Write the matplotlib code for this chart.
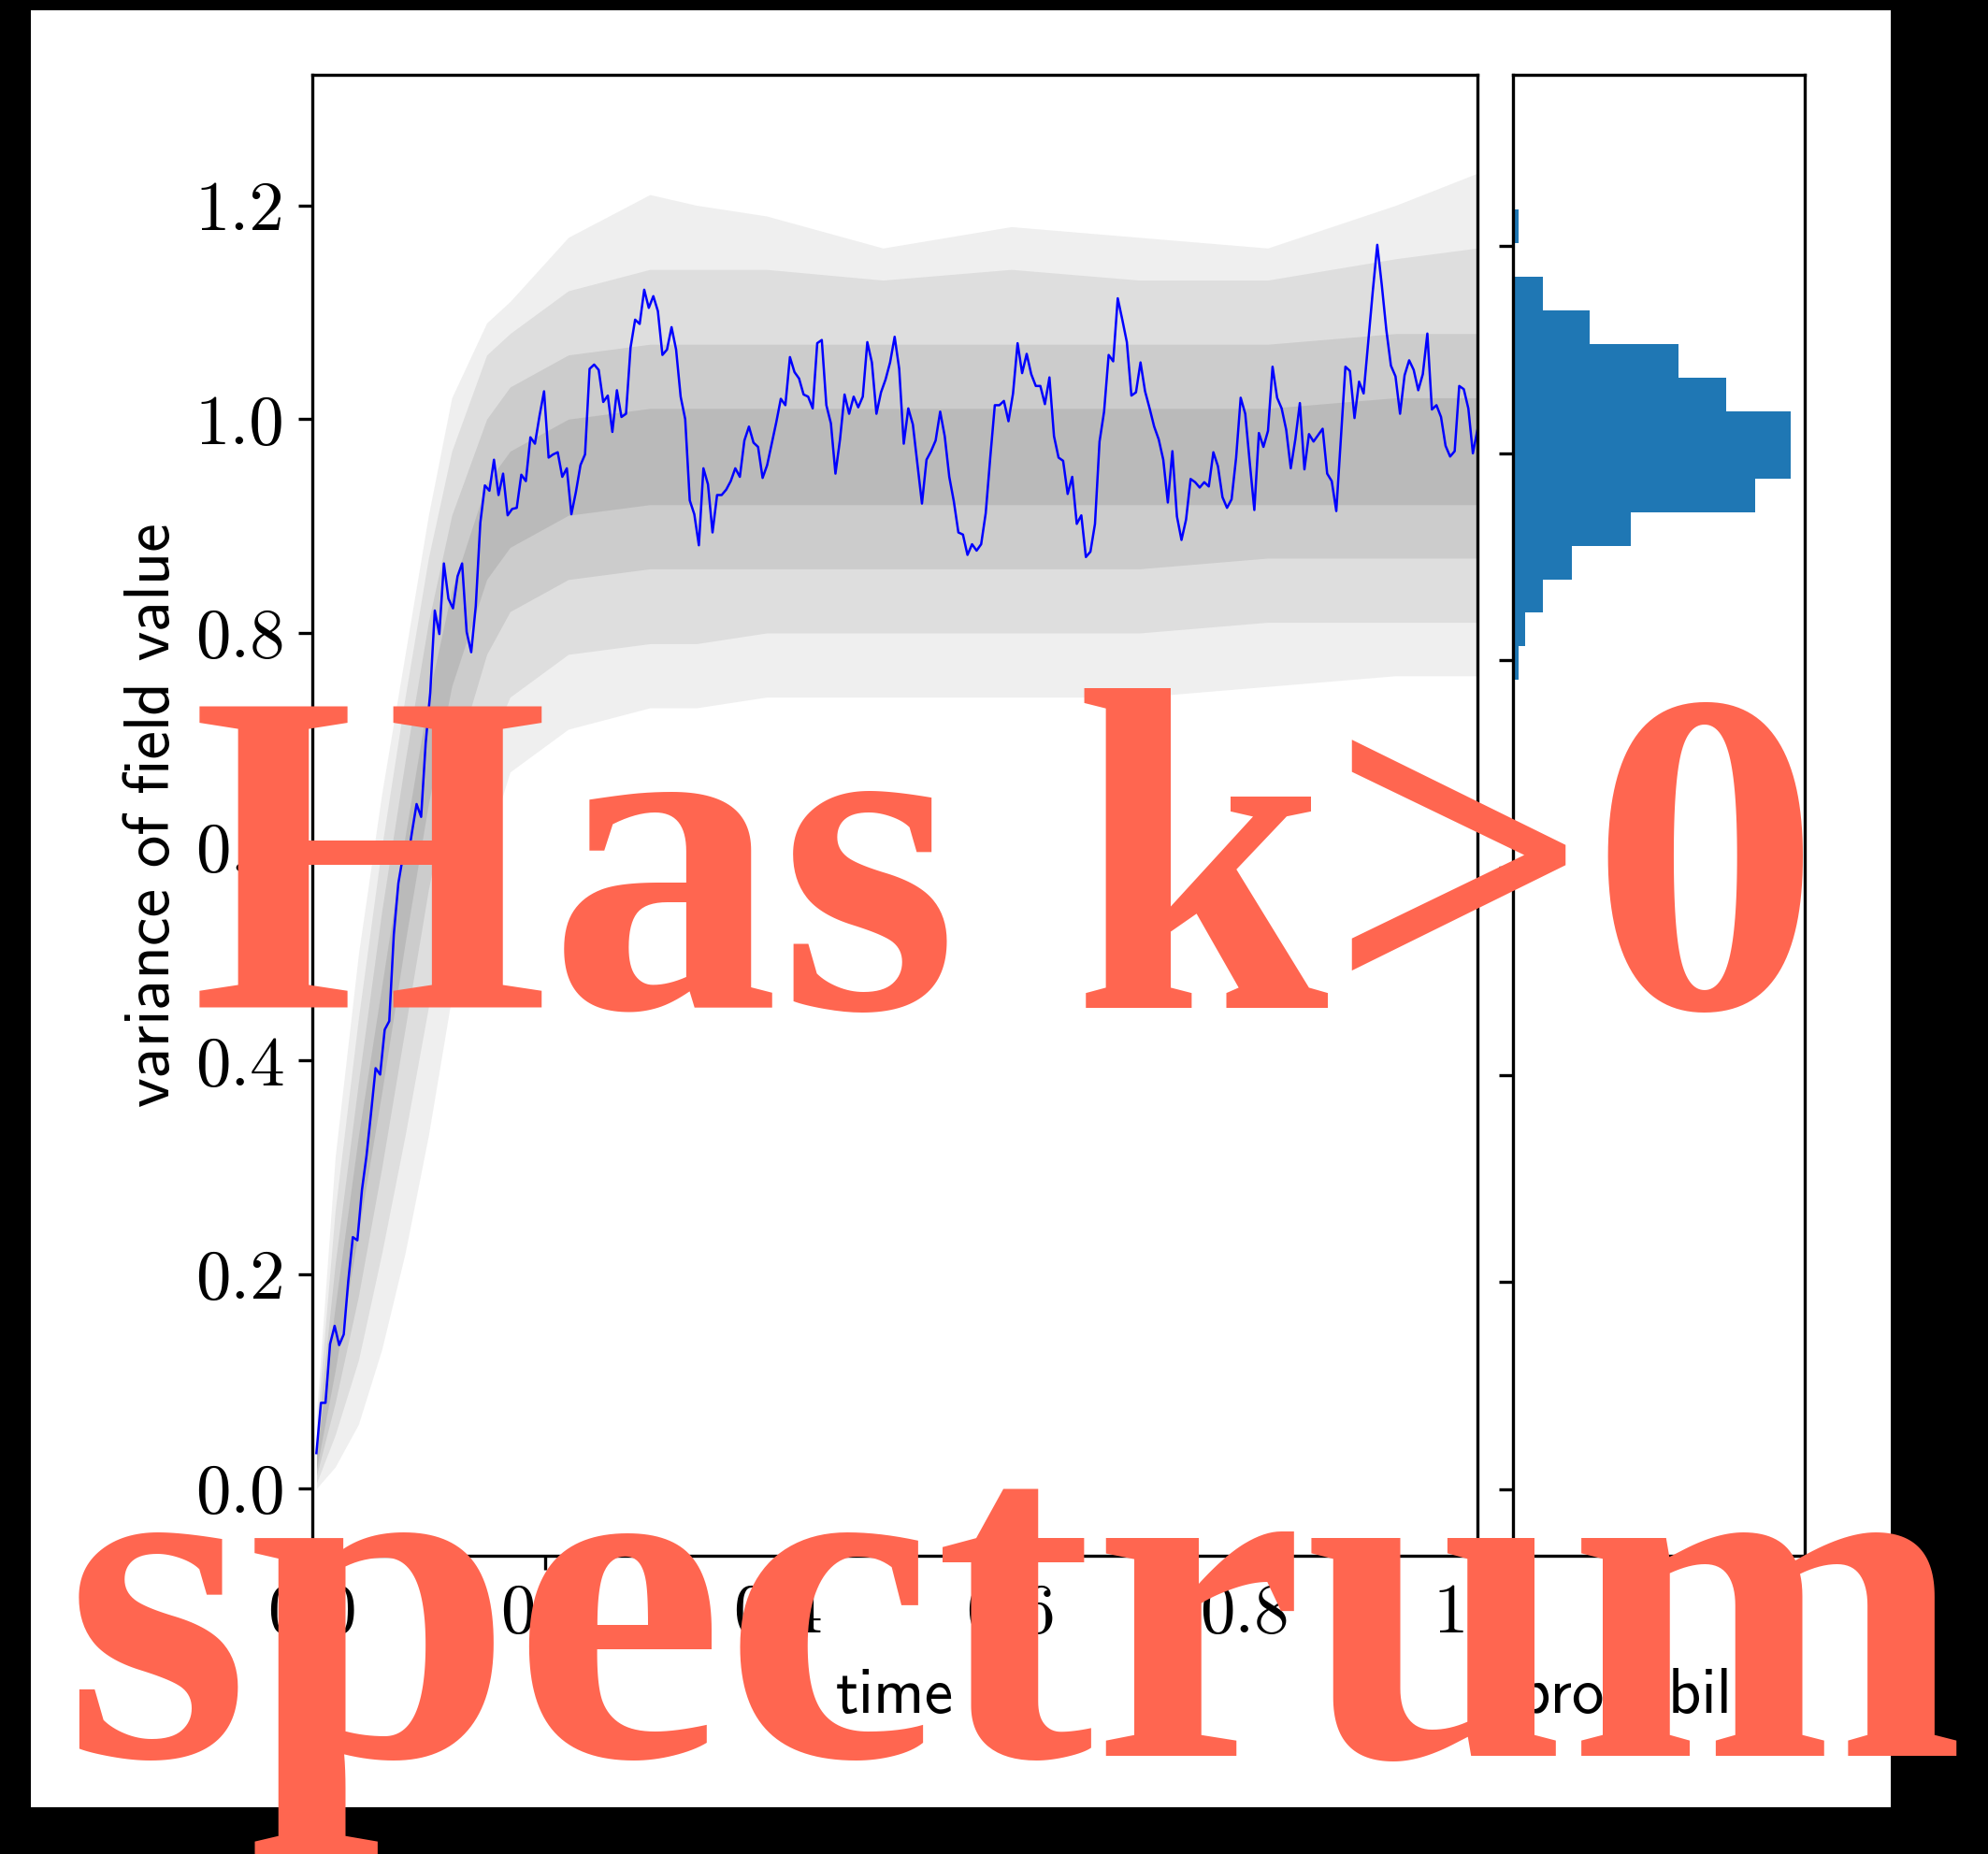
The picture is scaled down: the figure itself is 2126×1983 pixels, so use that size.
import numpy as np
import matplotlib
matplotlib.use('Agg')
import matplotlib.pyplot as plt
from matplotlib.patches import Rectangle
from matplotlib.ticker import FormatStrFormatter

plt.rcParams['font.family'] = ['cmr10', 'DejaVu Sans']
plt.rcParams['axes.formatter.use_mathtext'] = True

# highlighted run: variance of the field, one sample every dt = 1/256
variance_run = [
    0.033, 0.080, 0.080, 0.135, 0.152, 0.134, 0.144, 0.194, 0.235, 0.232,
    0.279, 0.311, 0.351, 0.393, 0.387, 0.429, 0.437, 0.518, 0.566, 0.591,
    0.586, 0.614, 0.640, 0.628, 0.697, 0.744, 0.821, 0.799, 0.865, 0.832,
    0.823, 0.853, 0.865, 0.801, 0.782, 0.825, 0.903, 0.938, 0.933, 0.962,
    0.929, 0.949, 0.910, 0.916, 0.917, 0.948, 0.942, 0.983, 0.977, 1.003,
    1.026, 0.964, 0.967, 0.969, 0.946, 0.954, 0.911, 0.932, 0.957, 0.967,
    1.047, 1.051, 1.046, 1.016, 1.022, 0.988, 1.027, 1.002, 1.005, 1.067,
    1.093, 1.089, 1.121, 1.104, 1.115, 1.101, 1.060, 1.065, 1.086, 1.065,
    1.021, 1.000, 0.924, 0.911, 0.882, 0.954, 0.939, 0.894, 0.929, 0.929,
    0.934, 0.942, 0.954, 0.946, 0.980, 0.993, 0.978, 0.974, 0.945, 0.957,
    0.977, 0.997, 1.019, 1.013, 1.058, 1.044, 1.038, 1.023, 1.021, 1.010,
    1.071, 1.074, 1.013, 0.996, 0.949, 0.981, 1.023, 1.005, 1.021, 1.011,
    1.021, 1.072, 1.053, 1.005, 1.025, 1.037, 1.053, 1.077, 1.047, 0.977,
    1.010, 0.995, 0.958, 0.921, 0.962, 0.970, 0.980, 1.007, 0.984, 0.946,
    0.923, 0.894, 0.892, 0.873, 0.883, 0.877, 0.883, 0.912, 0.964, 1.013,
    1.013, 1.017, 0.998, 1.024, 1.071, 1.043, 1.061, 1.042, 1.031, 1.031,
    1.014, 1.039, 0.984, 0.964, 0.961, 0.930, 0.946, 0.902, 0.910, 0.871,
    0.876, 0.902, 0.979, 1.007, 1.060, 1.054, 1.113, 1.093, 1.072, 1.022,
    1.025, 1.053, 1.026, 1.010, 0.993, 0.981, 0.962, 0.922, 0.970, 0.909,
    0.887, 0.906, 0.944, 0.941, 0.936, 0.941, 0.937, 0.969, 0.956, 0.927,
    0.917, 0.925, 0.964, 1.020, 1.005, 0.959, 0.915, 0.987, 0.974, 0.989,
    1.049, 1.020, 1.010, 0.990, 0.954, 0.981, 1.015, 0.953, 0.986, 0.979,
    0.985, 0.991, 0.949, 0.942, 0.914, 0.982, 1.049, 1.045, 1.001, 1.035,
    1.024, 1.072, 1.119, 1.163, 1.125, 1.083, 1.050, 1.040, 1.005, 1.041,
    1.055, 1.046, 1.027, 1.042, 1.080, 1.009, 1.013, 1.002, 0.975, 0.965,
    0.970, 1.031, 1.028, 1.010, 0.968, 0.990,
]

# spread of the whole ensemble of runs (grey bundle), as quantiles over time
band_time = [0.004, 0.02, 0.04, 0.06, 0.08, 0.10, 0.12, 0.15, 0.17, 0.22,
             0.29, 0.33, 0.39, 0.49, 0.60, 0.71, 0.82, 0.93, 1.00]
q01 = [0.000, 0.02, 0.06, 0.13, 0.22, 0.33, 0.46, 0.60, 0.67, 0.71,
       0.73, 0.73, 0.74, 0.74, 0.74, 0.74, 0.75, 0.76, 0.76]
q05 = [0.005, 0.05, 0.12, 0.22, 0.33, 0.45, 0.57, 0.69, 0.74, 0.78,
       0.79, 0.79, 0.80, 0.80, 0.80, 0.80, 0.81, 0.81, 0.81]
q15 = [0.012, 0.08, 0.18, 0.30, 0.43, 0.56, 0.67, 0.78, 0.82, 0.85,
       0.86, 0.86, 0.86, 0.86, 0.86, 0.86, 0.87, 0.87, 0.87]
q30 = [0.018, 0.11, 0.24, 0.37, 0.51, 0.64, 0.75, 0.85, 0.88, 0.91,
       0.92, 0.92, 0.92, 0.92, 0.92, 0.92, 0.92, 0.92, 0.92]
q70 = [0.032, 0.17, 0.33, 0.47, 0.61, 0.74, 0.84, 0.94, 0.97, 1.00,
       1.01, 1.01, 1.01, 1.01, 1.01, 1.01, 1.01, 1.02, 1.02]
q85 = [0.042, 0.21, 0.38, 0.54, 0.68, 0.81, 0.91, 1.00, 1.03, 1.06,
       1.07, 1.07, 1.07, 1.07, 1.07, 1.07, 1.07, 1.08, 1.08]
q95 = [0.055, 0.26, 0.44, 0.60, 0.74, 0.87, 0.97, 1.06, 1.08, 1.12,
       1.14, 1.14, 1.14, 1.13, 1.14, 1.13, 1.13, 1.15, 1.16]
q99 = [0.070, 0.31, 0.50, 0.65, 0.78, 0.91, 1.02, 1.09, 1.11, 1.17,
       1.21, 1.20, 1.19, 1.16, 1.18, 1.17, 1.16, 1.20, 1.23]

# histogram of the end values over all runs (counts, lowest bin first)
hist_counts = [1, 2, 5, 10, 20, 41, 47, 47, 36, 28, 13, 5, 0, 1]
hist_lo, hist_hi = 0.781, 1.235

t = np.arange(1, len(variance_run) + 1) / len(variance_run)
edges = np.linspace(hist_lo, hist_hi, len(hist_counts) + 1)
centres = 0.5 * (edges[1:] + edges[:-1])

W, H = 2126, 1983
fig = plt.figure(figsize=(W / 300, H / 300), dpi=300, facecolor='black')
fig.add_artist(Rectangle((33 / W, 1 - 1933 / H), (2022 - 33) / W, (1933 - 11) / H,
                         transform=fig.transFigure, facecolor='white',
                         edgecolor='none', zorder=-10))

bottom = 1 - 1664 / H
height = (1664 - 80) / H
ax = fig.add_axes([333.5 / W, bottom, (1580 - 333.5) / W, height])
axh = fig.add_axes([1618 / W, bottom, (1930 - 1618) / W, height])

# nested quantile bands, outermost (faintest) first
for lo, hi, a in [(q01, q99, 0.10), (q05, q95, 0.12),
                  (q15, q85, 0.15), (q30, q70, 0.17)]:
    ax.fill_between(band_time, lo, hi, color='0.4', alpha=a, lw=0)
ax.plot(t, variance_run, color='blue', lw=0.6)

ax.set_xlim(0, 1)
ax.set_ylim(-0.063, 1.322)
ax.set_xticks(np.arange(0, 1.01, 0.2))
ax.set_yticks(np.arange(0, 1.21, 0.2))
ax.xaxis.set_major_formatter(FormatStrFormatter('%.1f'))
ax.yaxis.set_major_formatter(FormatStrFormatter('%.1f'))
ax.tick_params(labelsize=18)
ax.set_xlabel('time', family='cmss10', fontsize=16.5)
ax.set_ylabel('variance of field value', family='cmss10', fontsize=16.5)
ax.xaxis.set_label_coords(0.5, -0.076)
ax.yaxis.set_label_coords(-0.112, 0.5)

axh.hist(centres, bins=edges, weights=hist_counts, density=True,
         orientation='horizontal', color='#1f77b4')
axh.set_ylim(-0.064, 1.365)
axh.set_yticks(np.arange(0, 1.21, 0.2))
axh.set_yticklabels([])
axh.set_xticklabels([])
axh.set_xlabel('probability', family='cmss10', fontsize=16.5)
axh.xaxis.set_label_coords(0.5, -0.076)

salmon = '#FF6650'
stamp = dict(ha='center', va='baseline', family='Liberation Serif',
             weight='bold', color=salmon, zorder=10)
fig.text(1076 / W, 1 - 1078 / H, 'Has k>0', fontsize=118, **stamp)
fig.text(1085 / W, 1 - 1878 / H, 'spectrum', fontsize=122, **stamp)

fig.savefig('out.png', dpi=300, facecolor='black')
